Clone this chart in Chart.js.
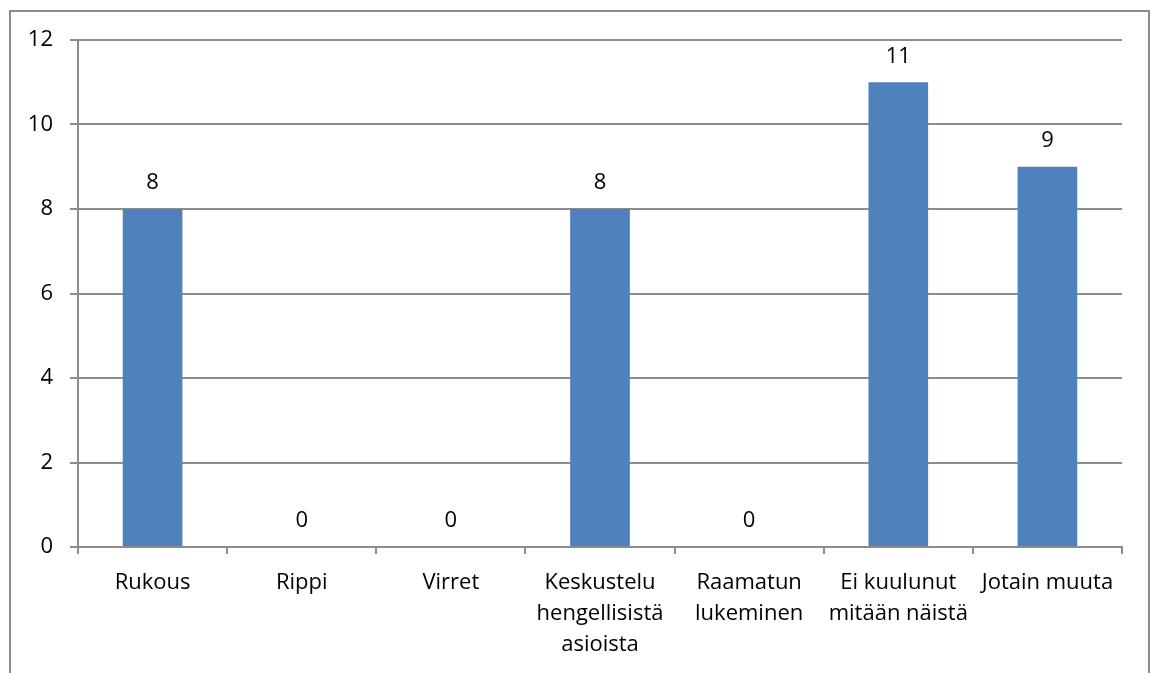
<!DOCTYPE html>
<html>
<head>
<meta charset="utf-8">
<script src="https://cdn.jsdelivr.net/npm/chart.js@4/dist/chart.umd.min.js"></script>
<style>
  html, body { margin: 0; padding: 0; background: #ffffff; }
  #wrap { position: relative; width: 1153px; height: 673px; }
</style>
</head>
<body>
<div id="wrap"><canvas id="chart" width="1153" height="673"></canvas></div>
<script>
// Categories (multi-line labels are arrays of lines)
const categories = [
  'Rukous',
  'Rippi',
  'Virret',
  ['Keskustelu', 'hengellisistä', 'asioista'],
  ['Raamatun', 'lukeminen'],
  ['Ei kuulunut', 'mitään näistä'],
  'Jotain muuta'
];
const counts = [8, 0, 0, 8, 0, 11, 9];
const yTicks = [0, 2, 4, 6, 8, 10, 12];

const FONT = "'Open Sans', sans-serif";
const GRAY = '#8c8c8c';

// Outer frame of the chart area
const framePlugin = {
  id: 'frame',
  beforeDraw(chart) {
    const ctx = chart.ctx;
    ctx.save();
    ctx.fillStyle = '#ffffff';
    ctx.fillRect(0, 0, chart.width, chart.height);
    ctx.strokeStyle = GRAY;
    ctx.lineWidth = 2;
    ctx.strokeRect(10, 11, 1139, 720);
    ctx.restore();
  }
};

// Value labels above each bar
const valueLabels = {
  id: 'valueLabels',
  afterDatasetsDraw(chart) {
    const ctx = chart.ctx;
    const meta = chart.getDatasetMeta(0);
    ctx.save();
    ctx.font = '22px ' + FONT;
    ctx.fillStyle = '#000000';
    ctx.textAlign = 'center';
    ctx.textBaseline = 'middle';
    meta.data.forEach((bar, i) => {
      ctx.fillText(String(counts[i]), bar.x, bar.y - 26);
    });
    ctx.restore();
  }
};

new Chart(document.getElementById('chart'), {
  type: 'bar',
  data: {
    labels: categories,
    datasets: [{
      data: counts,
      backgroundColor: '#4f81bd',
      borderWidth: 0,
      barPercentage: 0.40,
      categoryPercentage: 1.0
    }]
  },
  options: {
    responsive: false,
    animation: false,
    devicePixelRatio: 1,
    layout: { padding: { left: 0, top: 40, right: 31, bottom: 0 } },
    plugins: { legend: { display: false }, tooltip: { enabled: false } },
    scales: {
      x: {
        offset: true,
        grid: {
          offset: true,
          drawOnChartArea: false,
          drawTicks: true,
          tickLength: 7,
          color: GRAY,
          lineWidth: 2
        },
        border: { display: true, color: GRAY, width: 2 },
        ticks: {
          autoSkip: false,
          maxRotation: 0,
          minRotation: 0,
          padding: 13,
          color: '#000000',
          font: { family: FONT, size: 22, lineHeight: 1.42 }
        },
        afterFit(scale) { scale.height = 126; }
      },
      y: {
        min: 0,
        max: 12,
        afterBuildTicks(scale) { scale.ticks = yTicks.map(v => ({ value: v })); },
        grid: {
          color: GRAY,
          lineWidth: 2,
          tickLength: 8
        },
        border: { display: true, color: GRAY, width: 2 },
        ticks: {
          padding: 17,
          color: '#000000',
          font: { family: FONT, size: 22 }
        },
        afterFit(scale) { scale.width = 78; }
      }
    }
  },
  plugins: [framePlugin, valueLabels]
});
</script>
</body>
</html>
